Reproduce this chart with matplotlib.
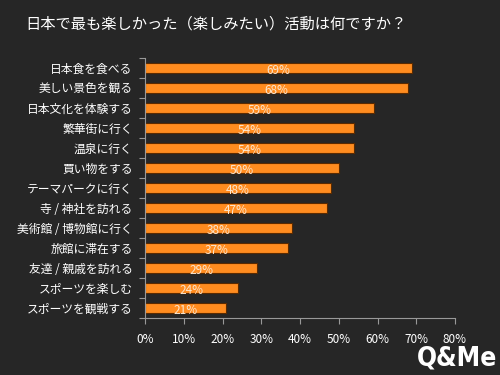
import matplotlib
matplotlib.use("Agg")
import matplotlib.pyplot as plt

plt.rcParams['font.family'] = ['Noto Sans CJK JP', 'DejaVu Sans']

# answers, top to bottom
activities = ["日本食を食べる", "美しい景色を観る", "日本文化を体験する", "繁華街に行く",
              "温泉に行く", "買い物をする", "テーマパークに行く", "寺 / 神社を訪れる",
              "美術館 / 博物館に行く", "旅館に滞在する", "友達 / 親戚を訪れる",
              "スポーツを楽しむ", "スポーツを観戦する"]
share = [69, 68, 59, 54, 54, 50, 48, 47, 38, 37, 29, 24, 21]
xticks = [0, 10, 20, 30, 40, 50, 60, 70, 80]

bg = '#262626'
fig = plt.figure(figsize=(5, 3.75), dpi=100, facecolor=bg)
ax = fig.add_axes([0.29, 0.152, 0.62, 0.693], facecolor=bg)

pos = list(range(len(activities)))[::-1]
ax.barh(pos, share, height=0.5, color='#ff8c1f', edgecolor='#5a2a00', linewidth=0.8)
for p, v in zip(pos, share):
    ax.text(v / 2, p - 0.1, f"{v}%", ha='center', va='center', fontsize=8.5,
            color='#fbe7d0')

ax.set_xlim(0, 80)
ax.set_ylim(-0.5, len(activities) - 0.5)
ax.set_xticks(xticks)
ax.set_xticklabels([f"{t}%" for t in xticks], color='white', fontsize=8.5)
ax.set_yticks(pos)
ax.set_yticklabels(activities, color='white', fontsize=8.5)
ax.set_yticks([p + 0.5 for p in range(-1, len(activities))], minor=True)
ax.tick_params(axis='y', which='major', length=0, pad=9)
ax.tick_params(axis='y', which='minor', length=4, color='#999999', width=0.8)
ax.tick_params(axis='x', length=4, color='#999999', width=0.8, pad=7)
for s in ['top', 'right']:
    ax.spines[s].set_visible(False)
for s in ['left', 'bottom']:
    ax.spines[s].set_color('#999999')
    ax.spines[s].set_linewidth(0.8)

fig.text(0.05, 0.935, "日本で最も楽しかった（楽しみたい）活動は何ですか？", color='white',
         fontsize=11, va='center')
fig.text(0.995, 0.01, "Q&Me", color='white', fontsize=19, fontweight='heavy',
         ha='right', va='bottom', family='DejaVu Sans', fontstretch='condensed')

fig.savefig("out.png", facecolor=bg)
